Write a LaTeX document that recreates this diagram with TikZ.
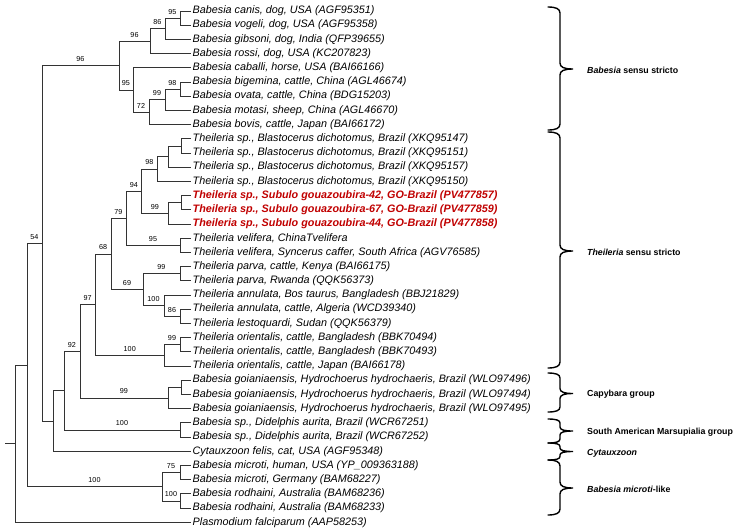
\documentclass[tikz,border=0pt]{standalone}
\usepackage{fontspec}
\setmainfont{Liberation Sans}
\definecolor{redlbl}{RGB}{192,0,0}
\newcommand\cladebrace[4]{%
  \draw[brc] (548,#1) .. controls (556,#1) and (560,#1+0.3*#4) .. (560,#1+#4)
    -- (560,#2-#4) .. controls (560,#2-0.3*#4) and (564,#2) .. (573,#2)
    .. controls (564,#2) and (560,#2+0.3*#4) .. (560,#2+#4)
    -- (560,#3-#4) .. controls (560,#3-0.3*#4) and (556,#3) .. (548,#3);}
\begin{document}
\begin{tikzpicture}[x=1pt,y=-1pt,
  br/.style={line width=0.8pt, draw=black!80},
  leaf/.style={anchor=west, inner sep=1.5pt, font=\fontsize{10.8}{12}\selectfont\itshape},
  redleaf/.style={leaf, font=\fontsize{10.8}{12}\selectfont\bfseries\itshape, text=redlbl},
  bs/.style={pos=0.75, anchor=base, yshift=4pt, inner sep=0pt, font=\fontsize{7.2}{8}\selectfont},
  grp/.style={anchor=west, inner sep=0pt, font=\fontsize{8.8}{10}\selectfont\bfseries},
  brc/.style={line width=1.4pt, line cap=round, draw=black}]
\useasboundingbox (0,0) rectangle (737,531);

% leaves
\node[leaf] (L0) at (191,11.0) {Babesia canis, dog, USA (AGF95351)};
\node[leaf] (L1) at (191,25.2) {Babesia vogeli, dog, USA (AGF95358)};
\node[leaf] (L2) at (191,39.4) {Babesia gibsoni, dog, India (QFP39655)};
\node[leaf] (L3) at (191,53.6) {Babesia rossi, dog, USA (KC207823)};
\node[leaf] (L4) at (191,67.8) {Babesia caballi, horse, USA (BAI66166)};
\node[leaf] (L5) at (191,82.0) {Babesia bigemina, cattle, China (AGL46674)};
\node[leaf] (L6) at (191,96.2) {Babesia ovata, cattle, China (BDG15203)};
\node[leaf] (L7) at (191,110.4) {Babesia motasi, sheep, China (AGL46670)};
\node[leaf] (L8) at (191,124.6) {Babesia bovis, cattle, Japan (BAI66172)};
\node[leaf] (L9) at (191,138.8) {Theileria sp., Blastocerus dichotomus, Brazil (XKQ95147)};
\node[leaf] (L10) at (191,153.0) {Theileria sp., Blastocerus dichotomus, Brazil (XKQ95151)};
\node[leaf] (L11) at (191,167.2) {Theileria sp., Blastocerus dichotomus, Brazil (XKQ95157)};
\node[leaf] (L12) at (191,181.4) {Theileria sp., Blastocerus dichotomus, Brazil (XKQ95150)};
\node[redleaf] (L13) at (191,195.6) {Theileria sp., Subulo gouazoubira-42, GO-Brazil (PV477857)};
\node[redleaf] (L14) at (191,209.8) {Theileria sp., Subulo gouazoubira-67, GO-Brazil (PV477859)};
\node[redleaf] (L15) at (191,224.0) {Theileria sp., Subulo gouazoubira-44, GO-Brazil (PV477858)};
\node[leaf] (L16) at (191,238.2) {Theileria velifera, ChinaTvelifera};
\node[leaf] (L17) at (191,252.4) {Theileria velifera, Syncerus caffer, South Africa (AGV76585)};
\node[leaf] (L18) at (191,266.6) {Theileria parva, cattle, Kenya (BAI66175)};
\node[leaf] (L19) at (191,280.8) {Theileria parva, Rwanda (QQK56373)};
\node[leaf] (L20) at (191,295.0) {Theileria annulata, Bos taurus, Bangladesh (BBJ21829)};
\node[leaf] (L21) at (191,309.2) {Theileria annulata, cattle, Algeria (WCD39340)};
\node[leaf] (L22) at (191,323.4) {Theileria lestoquardi, Sudan (QQK56379)};
\node[leaf] (L23) at (191,337.6) {Theileria orientalis, cattle, Bangladesh (BBK70494)};
\node[leaf] (L24) at (191,351.8) {Theileria orientalis, cattle, Bangladesh (BBK70493)};
\node[leaf] (L25) at (191,366.0) {Theileria orientalis, cattle, Japan (BAI66178)};
\node[leaf] (L26) at (191,380.2) {Babesia goianiaensis, Hydrochoerus hydrochaeris, Brazil (WLO97496)};
\node[leaf] (L27) at (191,394.4) {Babesia goianiaensis, Hydrochoerus hydrochaeris, Brazil (WLO97494)};
\node[leaf] (L28) at (191,408.6) {Babesia goianiaensis, Hydrochoerus hydrochaeris, Brazil (WLO97495)};
\node[leaf] (L29) at (191,422.8) {Babesia sp., Didelphis aurita, Brazil (WCR67251)};
\node[leaf] (L30) at (191,437.0) {Babesia sp., Didelphis aurita, Brazil (WCR67252)};
\node[leaf] (L31) at (191,451.2) {Cytauxzoon felis, cat, USA (AGF95348)};
\node[leaf] (L32) at (191,465.4) {Babesia microti, human, USA (YP\_009363188)};
\node[leaf] (L33) at (191,479.6) {Babesia microti, Germany (BAM68227)};
\node[leaf] (L34) at (191,493.8) {Babesia rodhaini, Australia (BAM68236)};
\node[leaf] (L35) at (191,508.0) {Babesia rodhaini, Australia (BAM68233)};
\node[leaf] (L36) at (191,522.2) {Plasmodium falciparum (AAP58253)};

% internal nodes
\coordinate (nCV) at (180,18.1);
\coordinate (n86) at (165,28.75);
\coordinate (n96d) at (150,41.18);
\coordinate (n98b) at (180,89.1);
\coordinate (n99b) at (165,99.75);
\coordinate (n72) at (149,112.18);
\coordinate (nCab) at (133,89.99);
\coordinate (nBab) at (119,65.58);
\coordinate (nBl1) at (181,145.9);
\coordinate (nBl2) at (168,156.55);
\coordinate (n98t) at (157,168.98);
\coordinate (nRd1) at (181,202.7);
\coordinate (n99r) at (168,213.35);
\coordinate (n94) at (141.7,191.17);
\coordinate (nVel) at (180,245.3);
\coordinate (n79) at (126,218.24);
\coordinate (nPar) at (180,273.7);
\coordinate (n86t) at (180,316.3);
\coordinate (n100a) at (164,305.65);
\coordinate (n69) at (143,289.68);
\coordinate (n68) at (111,253.96);
\coordinate (nOr1) at (180,344.7);
\coordinate (nOr) at (164,355.35);
\coordinate (n97) at (95.5,304.66);
\coordinate (nCp1) at (181,387.3);
\coordinate (nCap) at (168,397.95);
\coordinate (n92) at (80,351.3);
\coordinate (nMar) at (180,429.9);
\coordinate (nR2) at (64,390.6);
\coordinate (nR1) at (53,420.9);
\coordinate (nIn) at (42,243.24);
\coordinate (n75) at (180,472.5);
\coordinate (n100r) at (180,500.9);
\coordinate (nMic) at (162,486.7);
\coordinate (n54) at (27,364.97);
\coordinate (nRoot) at (15,443.6);
\coordinate (rootstub) at (5,443.6);

% branches
\draw[br] (nCV) |- (L0.west);
\draw[br] (nCV) |- (L1.west);
\draw[br] (n86) |- node[bs]{95} (nCV);
\draw[br] (n86) |- (L2.west);
\draw[br] (n96d) |- node[bs]{86} (n86);
\draw[br] (n96d) |- (L3.west);
\draw[br] (nBab) |- node[bs]{96} (n96d);
\draw[br] (nBab) |- node[bs]{95} (nCab);
\draw[br] (nCab) |- (L4.west);
\draw[br] (nCab) |- node[bs]{72} (n72);
\draw[br] (n72) |- node[bs]{99} (n99b);
\draw[br] (n72) |- (L8.west);
\draw[br] (n99b) |- node[bs]{98} (n98b);
\draw[br] (n99b) |- (L7.west);
\draw[br] (n98b) |- (L5.west);
\draw[br] (n98b) |- (L6.west);

\draw[br] (nBl1) |- (L9.west);
\draw[br] (nBl1) |- (L10.west);
\draw[br] (nBl2) |- (nBl1);
\draw[br] (nBl2) |- (L11.west);
\draw[br] (n98t) |- (nBl2);
\draw[br] (n98t) |- (L12.west);
\draw[br] (nRd1) |- (L13.west);
\draw[br] (nRd1) |- (L14.west);
\draw[br] (n99r) |- (nRd1);
\draw[br] (n99r) |- (L15.west);
\draw[br] (n94) |- node[bs]{98} (n98t);
\draw[br] (n94) |- node[bs]{99} (n99r);
\draw[br] (nVel) |- (L16.west);
\draw[br] (nVel) |- (L17.west);
\draw[br] (n79) |- node[bs]{94} (n94);
\draw[br] (n79) |- node[bs]{95} (nVel);
\draw[br] (nPar) |- (L18.west);
\draw[br] (nPar) |- (L19.west);
\draw[br] (n86t) |- (L21.west);
\draw[br] (n86t) |- (L22.west);
\draw[br] (n100a) |- (L20.west);
\draw[br] (n100a) |- node[bs]{86} (n86t);
\draw[br] (n69) |- node[bs]{99} (nPar);
\draw[br] (n69) |- node[bs]{100} (n100a);
\draw[br] (n68) |- node[bs]{79} (n79);
\draw[br] (n68) |- node[bs]{69} (n69);
\draw[br] (nOr1) |- (L23.west);
\draw[br] (nOr1) |- (L24.west);
\draw[br] (nOr) |- node[bs]{99} (nOr1);
\draw[br] (nOr) |- (L25.west);
\draw[br] (n97) |- node[bs]{68} (n68);
\draw[br] (n97) |- node[bs]{100} (nOr);
\draw[br] (nCp1) |- (L26.west);
\draw[br] (nCp1) |- (L27.west);
\draw[br] (nCap) |- (nCp1);
\draw[br] (nCap) |- (L28.west);
\draw[br] (n92) |- node[bs]{97} (n97);
\draw[br] (n92) |- node[bs]{99} (nCap);
\draw[br] (nMar) |- (L29.west);
\draw[br] (nMar) |- (L30.west);
\draw[br] (nR2) |- node[bs]{92} (n92);
\draw[br] (nR2) |- node[bs]{100} (nMar);
\draw[br] (nR1) |- (nR2);
\draw[br] (nR1) |- (L31.west);
\draw[br] (nIn) |- node[bs]{96} (nBab);
\draw[br] (nIn) |- (nR1);
\draw[br] (n75) |- (L32.west);
\draw[br] (n75) |- (L33.west);
\draw[br] (n100r) |- (L34.west);
\draw[br] (n100r) |- (L35.west);
\draw[br] (nMic) |- node[bs]{75} (n75);
\draw[br] (nMic) |- node[bs]{100} (n100r);
\draw[br] (n54) |- node[bs]{54} (nIn);
\draw[br] (n54) |- node[bs]{100} (nMic);
\draw[br] (nRoot) |- (n54);
\draw[br] (nRoot) |- (L36.west);
\draw[br] (rootstub) -- (nRoot);

% group braces
\cladebrace{7}{69}{130}{6}
\cladebrace{132}{251}{368}{6}
\cladebrace{373}{393.5}{412}{5}
\cladebrace{419}{431}{443}{4}
\cladebrace{443}{451.5}{460}{3.5}
\cladebrace{460}{488}{515}{6}

\node[grp] (gBab) at (587,70) {\textit{Babesia} sensu stricto};
\node[grp] (gThe) at (587,252) {\textit{Theileria} sensu stricto};
\node[grp] (gCap) at (587,394) {Capybara group};
\node[grp] (gMar) at (587,432) {South American Marsupialia group};
\node[grp] (gCyt) at (587,453) {\textit{Cytauxzoon}};
\node[grp] (gMic) at (587,489) {\textit{Babesia microti}-like};
\end{tikzpicture}
\end{document}
